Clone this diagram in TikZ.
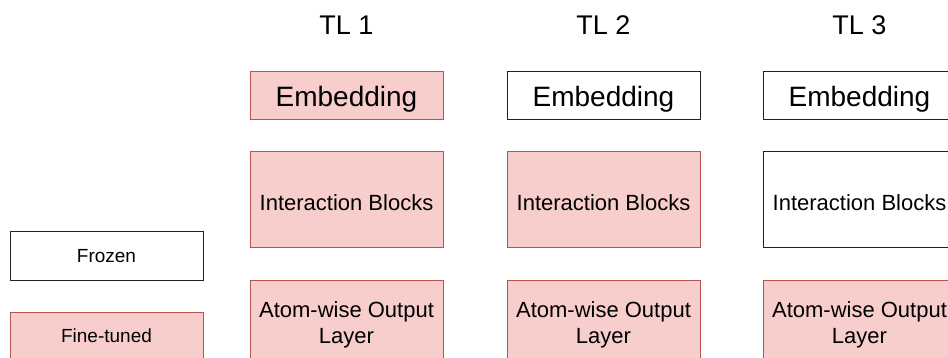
\documentclass[tikz,border=0pt]{standalone}
\usepackage{fontspec}
\setmainfont{Liberation Sans}
\definecolor{ftfill}{HTML}{F8CECC}
\definecolor{ftdraw}{HTML}{B85450}
\definecolor{frdraw}{HTML}{222222}
\begin{document}
\begin{tikzpicture}[x=1pt,y=-1pt,
  box/.style={rectangle, minimum width=193pt, inner sep=0pt, outer sep=0pt, line width=1pt, align=center, text=black},
  frozen/.style={box, draw=frdraw, fill=white},
  tuned/.style={box, draw=ftdraw, fill=ftfill},
  emb/.style={minimum height=48pt, font=\fontsize{28}{33}\selectfont, text depth=0pt},
  inter/.style={minimum height=96pt, font=\fontsize{22}{26}\selectfont, text height=22pt, text depth=0pt},
  atom/.style={minimum height=96pt, font=\fontsize{22}{26}\selectfont, text depth=10pt},
  legend/.style={minimum height=48pt, font=\fontsize{19}{23}\selectfont},
  title/.style={font=\fontsize{27}{32}\selectfont, inner sep=0pt}]
\clip (0,0) rectangle (948,358);
% legend
\node[frozen, legend] (frozen) at (106.5,256) {Frozen};
\node[tuned, legend] (tuned) at (106.5,336) {Fine-tuned};
% TL 1
\node[title] (t1) at (346.5,25) {TL 1};
\node[tuned, emb] (e1) at (346.5,96) {Embedding};
\node[tuned, inter] (i1) at (346.5,200) {Interaction Blocks};
\node[tuned, atom] (a1) at (346.5,328) {Atom-wise Output\\Layer};
% TL 2
\node[title] (t2) at (603.5,25) {TL 2};
\node[frozen, emb] (e2) at (603.5,96) {Embedding};
\node[tuned, inter] (i2) at (603.5,200) {Interaction Blocks};
\node[tuned, atom] (a2) at (603.5,328) {Atom-wise Output\\Layer};
% TL 3
\node[title] (t3) at (859.5,25) {TL 3};
\node[frozen, emb] (e3) at (859.5,96) {Embedding};
\node[frozen, inter] (i3) at (859.5,200) {Interaction Blocks};
\node[tuned, atom] (a3) at (859.5,328) {Atom-wise Output\\Layer};
\end{tikzpicture}
\end{document}
